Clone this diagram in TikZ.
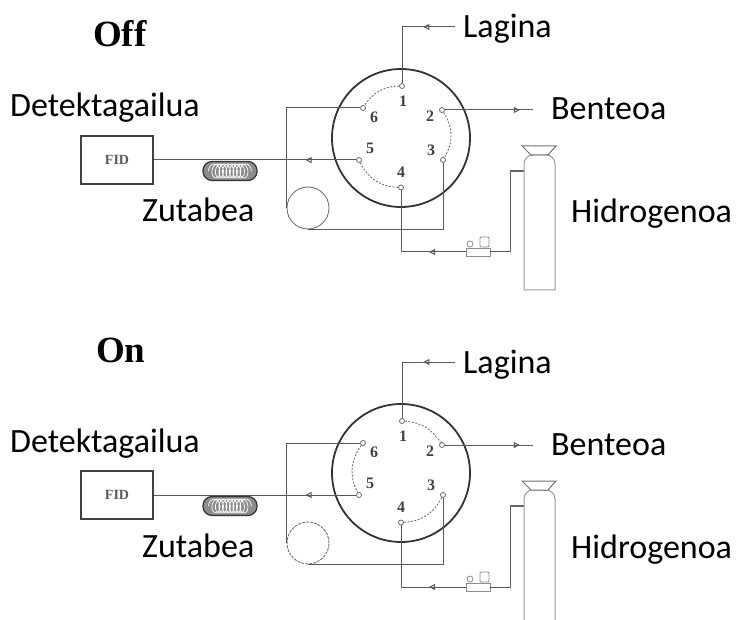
\documentclass[tikz,border=0pt]{standalone}
\usepackage{fontspec}
\setmainfont{Liberation Serif}
\newfontfamily\labelfont{Carlito}
\usetikzlibrary{positioning,arrows.meta,decorations.markings,decorations.pathmorphing}

\begin{document}
\begin{tikzpicture}[x=1pt,y=-1pt,
	valve/.style={circle, draw=black!80, line width=1.8pt, minimum size=138pt, inner sep=0pt},
	portnode/.style={circle, draw=black!60, fill=white, line width=0.8pt, inner sep=0pt, minimum size=5pt},
	portnum/.style={font=\bfseries\fontsize{16}{16}\selectfont, text=black!75, inner sep=0pt},
	pipe/.style={draw=black!65, line width=1pt},
	swline/.style={draw=black!55, line width=0.9pt, dash pattern=on 2pt off 1.5pt},
	flow/.style={postaction={decorate}, decoration={markings, mark=at position #1 with {\arrow{Triangle[open,length=6pt,width=6pt]}}}},
	txt/.style={font=\labelfont\fontsize{34}{34}\selectfont, anchor=base west, inner sep=0pt},
	statetxt/.style={font=\bfseries\fontsize{37}{37}\selectfont, anchor=base west, inner sep=0pt},
	fidbox/.style={draw=black!75, line width=1.4pt, minimum width=72pt, minimum height=48pt, font=\bfseries\fontsize{14}{14}\selectfont, text=black!65},
	colcoil/.style={rounded corners=9pt, draw=black!80, line width=1.2pt, fill=black!45, minimum width=54pt, minimum height=19pt, inner sep=0pt},
	coilwire/.style={white, line width=0.7pt, decorate, decoration={coil, amplitude=7pt, segment length=3.5pt, aspect=0.7}},
	bottleline/.style={draw=black!40, line width=1pt},
	]
	\path[use as bounding box] (0,0) rectangle (736,620);
	\clip (0,0) rectangle (736,620);

	\node[statetxt] (off) at (93,47) {Off};
	\node[statetxt] (on)  at (96,362) {On};

	%%% valve in the load position
	\begin{scope}
	%Nodes
	\node[valve]    (rot) at (401,138)   {};
	\node[portnode] (p1)  at (402,86)    {};
	\node[portnode] (p2)  at (442,110)   {};
	\node[portnode] (p3)  at (443,160)   {};
	\node[portnode] (p4)  at (401,187.5) {};
	\node[portnode] (p5)  at (359,160)   {};
	\node[portnode] (p6)  at (363,108)   {};
	\node[portnum] at (403,101) {1};
	\node[portnum] at (430,116) {2};
	\node[portnum] at (431,150) {3};
	\node[portnum] at (401,172) {4};
	\node[portnum] at (370,148) {5};
	\node[portnum] at (374,117) {6};

	\node[fidbox]  (fid)  at (117,160) {FID};
	\node[colcoil] (col)  at (230,171) {};
	\draw[coilwire] ([xshift=6pt]col.west) -- ([xshift=-6pt]col.east);
	\node[circle, draw=black!55, line width=0.9pt, minimum size=42pt, inner sep=0pt] (loop) at (308,208) {};
	\node[rectangle, draw=black!45, line width=0.8pt, minimum width=24pt, minimum height=8pt, inner sep=0pt] (reg) at (478,252) {};
	\draw[black!45, line width=0.8pt] (470,244) circle (3);
	\draw[black!45, line width=0.8pt, rounded corners=1pt] (480,237) rectangle (489,247);

	\coordinate (lagend) at (455,27);
	\coordinate (bentend) at (533,110);
	\coordinate (inlet) at (524,171);

	%Labels
	\node[txt] (lagina) at (463,38)  {Lagina};
	\node[txt] (benteoa) at (551,120) {Benteoa};
	\node[txt] (hidro) at (571,223) {Hidrogenoa};
	\node[txt] (zutabea) at (142,222) {Zutabea};
	\node[txt] (detek) at (10,117) {Detektagailua};

	%Lines
	\draw[pipe, flow=0.29] (lagend) -| (p1);
	\draw[pipe, flow=0.85] (p2) -- (bentend);
	\draw[pipe, flow=0.25] (p5) -- (fid);
	\draw[pipe] (p6) -| (loop.west);
	\draw[pipe] (p3) |- (loop.south);
	\draw[pipe, flow=0.29] (reg.west) -| (p4);
	\draw[pipe] (reg.east) -- (510,252) -- (510,171);
	\draw[black!60, line width=2pt] (510,171) -- (inlet);
	\draw[swline] (p1) to[bend right=28] (p6);
	\draw[swline] (p2) to[bend left=32] (p3);
	\draw[swline] (p5) to[bend right=31] (p4);

	%Gas bottle
	\draw[bottleline] (524,290) -- (524,172) [rounded corners=9pt] -- (524,155) -- (555,155) [sharp corners] -- (555,290) -- cycle;
	\draw[black!55, line width=1pt, fill=white] (522,146) -- (556,146) -- (548,155) -- (531,155) -- cycle;
	\end{scope}

	%%% valve in the inject position
	\begin{scope}[shift={(0,335)}]
	%Nodes
	\node[valve]    (rot) at (401,138)   {};
	\node[portnode] (p1)  at (402,86)    {};
	\node[portnode] (p2)  at (442,110)   {};
	\node[portnode] (p3)  at (443,160)   {};
	\node[portnode] (p4)  at (401,187.5) {};
	\node[portnode] (p5)  at (359,160)   {};
	\node[portnode] (p6)  at (363,108)   {};
	\node[portnum] at (403,101) {1};
	\node[portnum] at (430,116) {2};
	\node[portnum] at (431,150) {3};
	\node[portnum] at (401,172) {4};
	\node[portnum] at (370,148) {5};
	\node[portnum] at (374,117) {6};

	\node[fidbox]  (fid)  at (117,160) {FID};
	\node[colcoil] (col)  at (230,171) {};
	\draw[coilwire] ([xshift=6pt]col.west) -- ([xshift=-6pt]col.east);
	\node[circle, draw=black!55, line width=0.9pt, dash pattern=on 3pt off 1pt, minimum size=42pt, inner sep=0pt] (loop) at (308,208) {};
	\node[rectangle, draw=black!45, line width=0.8pt, minimum width=24pt, minimum height=8pt, inner sep=0pt] (reg) at (478,252) {};
	\draw[black!45, line width=0.8pt] (470,244) circle (3);
	\draw[black!45, line width=0.8pt, rounded corners=1pt] (480,237) rectangle (489,247);

	\coordinate (lagend) at (455,27);
	\coordinate (bentend) at (533,110);
	\coordinate (inlet) at (524,171);

	%Labels
	\node[txt] (lagina) at (463,38)  {Lagina};
	\node[txt] (benteoa) at (551,120) {Benteoa};
	\node[txt] (hidro) at (571,223) {Hidrogenoa};
	\node[txt] (zutabea) at (142,222) {Zutabea};
	\node[txt] (detek) at (10,117) {Detektagailua};

	%Lines
	\draw[pipe, flow=0.29] (lagend) -| (p1);
	\draw[pipe, flow=0.85] (p2) -- (bentend);
	\draw[pipe, flow=0.25] (p5) -- (fid);
	\draw[pipe] (p6) -| (loop.west);
	\draw[pipe] (p3) |- (loop.south);
	\draw[pipe, flow=0.29] (reg.west) -| (p4);
	\draw[pipe] (reg.east) -- (510,252) -- (510,171);
	\draw[black!60, line width=2pt] (510,171) -- (inlet);
	\draw[swline] (p1) to[bend left=27] (p2);
	\draw[swline] (p6) to[bend right=32] (p5);
	\draw[swline] (p3) to[bend left=30] (p4);

	%Gas bottle
	\draw[bottleline] (524,300) -- (524,172) [rounded corners=9pt] -- (524,155) -- (555,155) [sharp corners] -- (555,300);
	\draw[black!55, line width=1pt, fill=white] (522,146) -- (556,146) -- (548,155) -- (531,155) -- cycle;
	\end{scope}
\end{tikzpicture}
\end{document}
